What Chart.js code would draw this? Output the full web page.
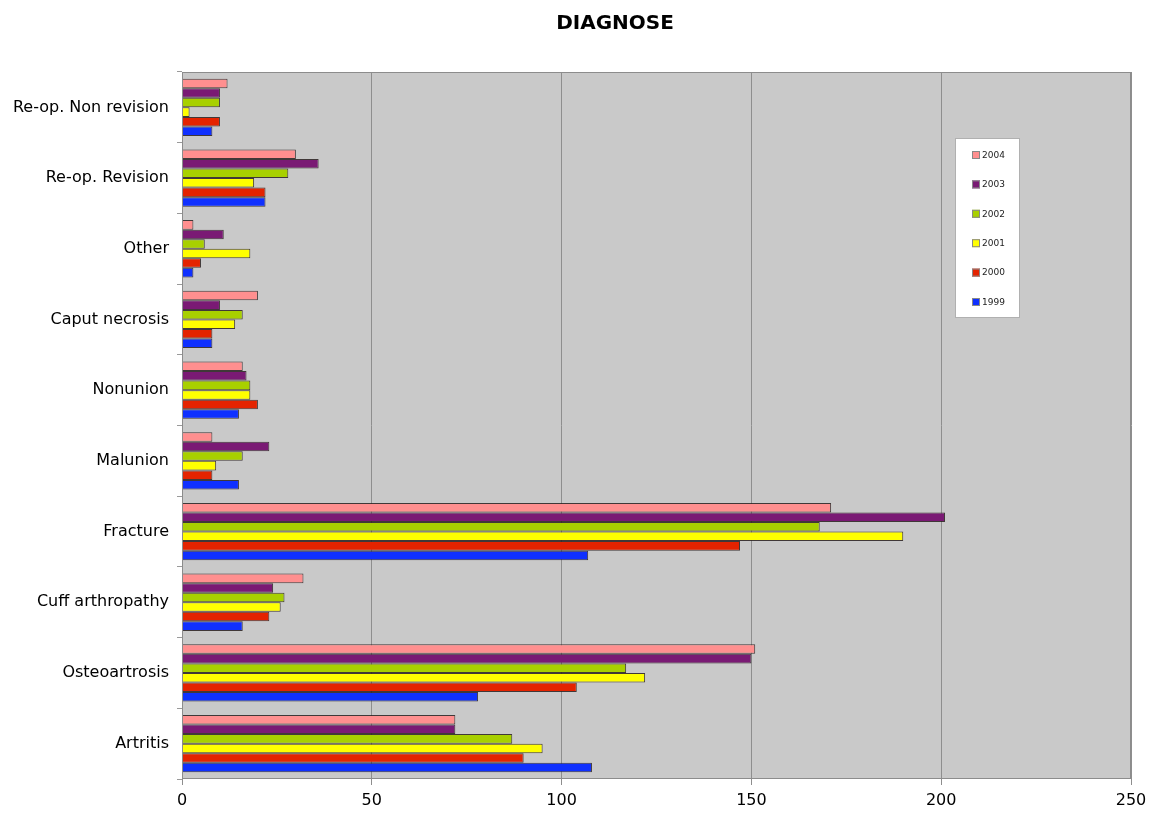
<!DOCTYPE html>
<html>
<head>
<meta charset="utf-8">
<script src="https://cdn.jsdelivr.net/npm/chart.js@4"></script>
<style>
  html, body { margin: 0; padding: 0; background: #fff; }
  #wrap { width: 1149px; height: 815px; position: relative; }
</style>
</head>
<body>
<div id="wrap"><canvas id="chart"></canvas></div>
<script>
// categories, top to bottom
const categories = ['Re-op. Non revision', 'Re-op. Revision', 'Other', 'Caput necrosis',
  'Nonunion', 'Malunion', 'Fracture', 'Cuff arthropathy', 'Osteoartrosis', 'Artritis'];

const years = ['2004', '2003', '2002', '2001', '2000', '1999'];

const v2004 = [12, 30, 3, 20, 16, 8, 171, 32, 151, 72];
const v2003 = [10, 36, 11, 10, 17, 23, 201, 24, 150, 72];
const v2002 = [10, 28, 6, 16, 18, 16, 168, 27, 117, 87];
const v2001 = [2, 19, 18, 14, 18, 9, 190, 26, 122, 95];
const v2000 = [10, 22, 5, 8, 20, 8, 147, 23, 104, 90];
const v1999 = [8, 22, 3, 8, 15, 15, 107, 16, 78, 108];

const xTicks = [0, 50, 100, 150, 200, 250];

const colors = ['#ff8f8f', '#7a1a74', '#a8d000', '#ffff00', '#e42300', '#0f30ff'];
const series = [v2004, v2003, v2002, v2001, v2000, v1999];

const FONT = '"DejaVu Sans", Verdana, sans-serif';

// grey plot background, frame, title and the boxed legend
const decor = {
  id: 'decor',
  beforeDraw(chart) {
    const { ctx, chartArea: a } = chart;
    ctx.save();
    ctx.fillStyle = '#c9c9c9';
    ctx.fillRect(a.left, a.top, a.right - a.left, a.bottom - a.top);
    ctx.restore();
  },
  afterDraw(chart) {
    const { ctx, chartArea: a } = chart;
    ctx.save();
    ctx.strokeStyle = '#8c8c8c';
    ctx.lineWidth = 1;
    ctx.strokeRect(a.left + 0.5, a.top + 0.5, a.right - a.left - 1, a.bottom - a.top - 1);

    ctx.fillStyle = '#000';
    ctx.font = 'bold 20px ' + FONT;
    ctx.textAlign = 'center';
    ctx.textBaseline = 'middle';
    ctx.fillText('DIAGNOSE', 615, 24);

    // legend
    ctx.fillStyle = '#fff';
    ctx.fillRect(955, 138, 64, 179);
    ctx.strokeStyle = '#b0b0b0';
    ctx.strokeRect(955.5, 138.5, 64, 179);
    ctx.font = '9px ' + FONT;
    ctx.textAlign = 'left';
    chart.data.datasets.forEach((ds, i) => {
      const y = 155 + i * 29.4;
      ctx.fillStyle = ds.backgroundColor;
      ctx.fillRect(972, y - 4, 8, 8);
      ctx.strokeStyle = '#888';
      ctx.strokeRect(972.5, y - 3.5, 7, 7);
      ctx.fillStyle = '#222';
      ctx.fillText(ds.label, 982, y + 0.5);
    });
    ctx.restore();
  }
};

new Chart(document.getElementById('chart'), {
  type: 'bar',
  data: {
    labels: categories,
    datasets: years.map((y, i) => ({
      label: y,
      data: series[i],
      backgroundColor: colors[i],
      borderColor: 'rgba(40,30,30,0.85)',
      borderWidth: 1,
      barPercentage: 1.0,
      categoryPercentage: 0.81
    }))
  },
  options: {
    indexAxis: 'y',
    responsive: true,
    maintainAspectRatio: false,
    animation: false,
    layout: { padding: { top: 72, right: 18, left: 0, bottom: 0 } },
    plugins: {
      legend: { display: false },
      title: { display: false },
      tooltip: { enabled: false }
    },
    scales: {
      x: {
        min: 0,
        max: 250,
        afterBuildTicks: (axis) => { axis.ticks = xTicks.map(v => ({ value: v })); },
        grid: { color: '#8e8e8e', tickLength: 6, drawTicks: true },
        border: { display: false },
        ticks: { color: '#000', font: { family: FONT, size: 16 }, padding: 6 },
        afterFit: (axis) => { axis.height = 36; axis.paddingRight = 0; axis.paddingLeft = 0; }
      },
      y: {
        grid: { display: true, drawOnChartArea: false, tickLength: 5, color: '#9a9a9a', offset: true },
        border: { display: false },
        ticks: { color: '#000', font: { family: FONT, size: 16 }, padding: 8 },
        afterFit: (axis) => { axis.width = 182; }
      }
    }
  },
  plugins: [decor]
});
</script>
</body>
</html>
